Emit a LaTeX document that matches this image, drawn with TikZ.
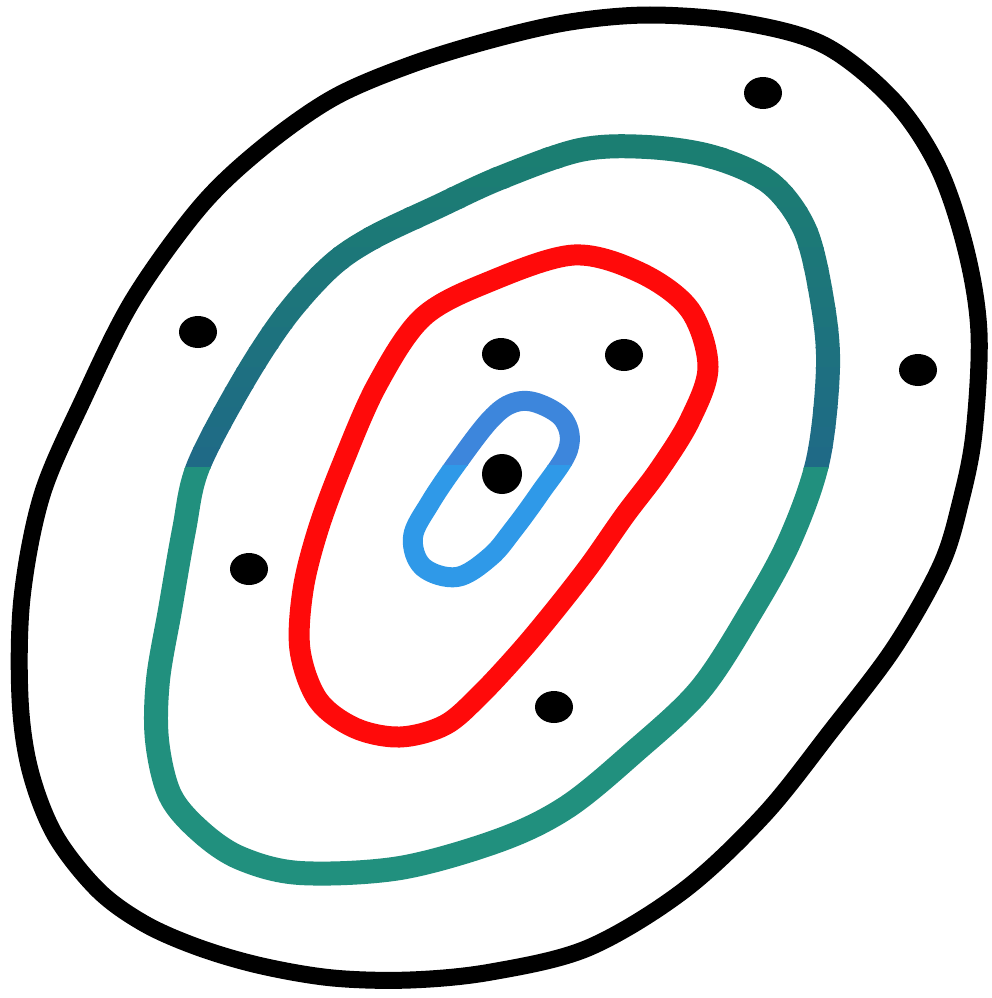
\documentclass[tikz,border=0pt]{standalone}
\definecolor{tealgreen}{HTML}{1B7E72}
\definecolor{tealblue}{HTML}{1F6A86}
\definecolor{tealbot}{HTML}{21907E}
\definecolor{redline}{HTML}{FF0A0A}
\definecolor{bluetop}{HTML}{3D86DC}
\definecolor{bluebot}{HTML}{2F99E8}
\tikzset{
  outerline/.style={line width=17pt, black, line join=round},
  tealline/.style={line width=24pt, line join=round},
  redstroke/.style={line width=21pt, redline, line join=round},
  bluestroke/.style={line width=20pt, line join=round},
  dotmark/.style={fill=black},
}
\newcommand{\tealpath}{plot[smooth cycle, tension=0.55] coordinates {
 (580,150) (647,147) (713,157) (770,183) (805,230) (822,300) (828,367) (818,460)
 (790,540) (752,610) (700,690) (633,753) (567,807) (500,840) (400,868) (300,873)
 (240,858) (200,831) (170,795) (157,740) (158,680) (170,610) (184,530) (198,467)
 (242,383) (285,317) (330,267) (372,238) (437,207) (500,178)}}
\newcommand{\bluepath}{plot[smooth cycle, tension=0.6] coordinates {
 (537,403) (564,420) (568,450) (540,493) (513,530) (490,557) (457,577) (423,567)
 (413,537) (430,503) (457,463) (490,420) (513,403)}}
\begin{document}
\begin{tikzpicture}[x=1pt,y=-1pt]
\useasboundingbox[fill=white] (0,0) rectangle (991,998);
% outer black contour
\draw[outerline] plot[smooth cycle, tension=0.55] coordinates {
 (491,40) (570,22) (650,15) (740,22) (824,45) (893,100) (938,167) (966,250)
 (979,333) (974,433) (961,500) (941,565) (894,648) (831,731) (764,815) (683,891)
 (588,948) (491,972) (410,980) (333,978) (262,966) (200,948) (145,924) (98,890)
 (55,835) (30,770) (20,698) (22,598) (42,495) (83,400) (133,300) (200,207) (262,148)
 (333,98) (410,65)};
% teal contour: top half shaded by height, bottom half plain
\begin{scope}
\clip (0,0) rectangle (991,148);
\draw[tealline, tealgreen] \tealpath;
\end{scope}
\foreach \i [evaluate=\i as \pc using 100-\i*6.6,
             evaluate=\i as \ya using 147+20*\i,
             evaluate=\i as \yb using 168+20*\i] in {0,...,15}{
\begin{scope}
\clip (0,\ya) rectangle (991,\yb);
\draw[tealline, tealgreen!\pc!tealblue] \tealpath;
\end{scope}
}
\begin{scope}
\clip (0,467) rectangle (991,998);
\draw[tealline, tealbot] \tealpath;
\end{scope}
% red contour
\draw[redstroke] plot[smooth cycle, tension=0.55] coordinates {
 (574,255) (641,273) (690,310) (708,367) (690,420) (659,470) (625,515) (590,565)
 (555,610) (520,652) (480,695) (445,725) (400,737) (355,728) (318,700) (300,650)
 (303,590) (318,530) (342,465) (377,385) (423,317) (491,281)};
% blue contour (two tones)
\begin{scope}
\clip (0,0) rectangle (991,465);
\draw[bluestroke, bluetop] \bluepath;
\end{scope}
\begin{scope}
\clip (0,465) rectangle (991,998);
\draw[bluestroke, bluebot] \bluepath;
\end{scope}
% dots
\fill[dotmark] (763,93) ellipse [x radius=19, y radius=16];
\fill[dotmark] (198,332) ellipse [x radius=19, y radius=16];
\fill[dotmark] (501,354) ellipse [x radius=19, y radius=16];
\fill[dotmark] (624,355) ellipse [x radius=19, y radius=16];
\fill[dotmark] (918,370) ellipse [x radius=19, y radius=16];
\fill[dotmark] (502,474) ellipse [x radius=20, y radius=20];
\fill[dotmark] (249,569) ellipse [x radius=19, y radius=16];
\fill[dotmark] (554,707) ellipse [x radius=19, y radius=16];
\end{tikzpicture}
\end{document}
